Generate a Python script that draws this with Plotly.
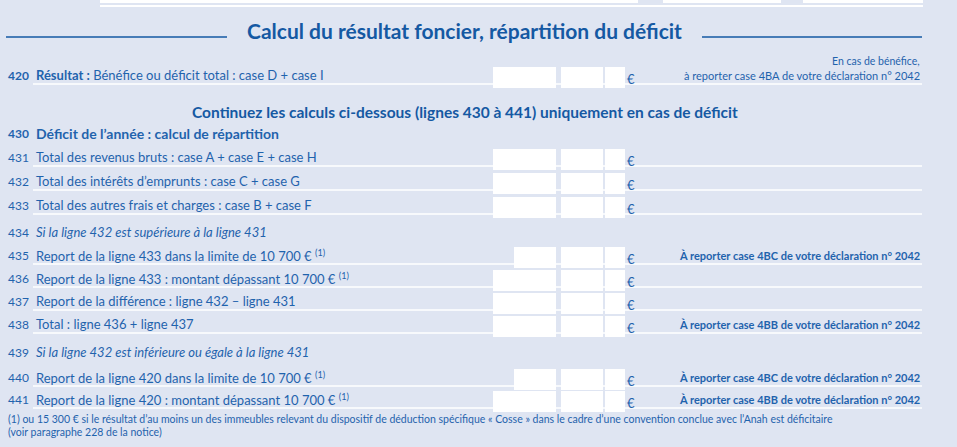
import plotly.graph_objects as go

row_nums = ["420","430","431","432","433","434","435","436","437","438","439","440","441"]
row_texts = [
    "<b>Résultat :</b> Bénéfice ou déficit total : case D + case I",
    "<b>Déficit de l’année : calcul de répartition</b>",
    "Total des revenus bruts : case A + case E + case H",
    "Total des intérêts d’emprunts : case C + case G",
    "Total des autres frais et charges : case B + case F",
    "<i>Si la ligne 432 est supérieure à la ligne 431</i>",
    "Report de la ligne 433 dans la limite de 10 700 € <sup>(1)</sup>",
    "Report de la ligne 433 : montant dépassant 10 700 € <sup>(1)</sup>",
    "Report de la différence : ligne 432 – ligne 431",
    "Total : ligne 436 + ligne 437",
    "<i>Si la ligne 432 est inférieure ou égale à la ligne 431</i>",
    "Report de la ligne 420 dans la limite de 10 700 € <sup>(1)</sup>",
    "Report de la ligne 420 : montant dépassant 10 700 € <sup>(1)</sup>",
]
right_notes = ["à reporter case 4BA de votre déclaration n° 2042", "", "", "", "", "",
               "À reporter case 4BC de votre déclaration n° 2042", "", "",
               "À reporter case 4BB de votre déclaration n° 2042", "",
               "À reporter case 4BC de votre déclaration n° 2042",
               "À reporter case 4BB de votre déclaration n° 2042"]
has_boxes = [True, False, True, True, True, False, True, True, True, True, False, True, True]
short_box = [False]*6 + [True] + [False]*4 + [True, False]
title = "Calcul du résultat foncier, répartition du déficit"
subtitle = "Continuez les calculs ci-dessous (lignes 430 à 441) uniquement en cas de déficit"
footnote = ["(1) ou 15 300 € si le résultat d’au moins un des immeubles relevant du dispositif de déduction spécifique « Cosse » dans le cadre d’une convention conclue avec l’Anah est déficitaire",
            "(voir paragraphe 228 de la notice)"]

# layout positions (pixels)
row_y = [75, 133, 157, 181, 205, 232, 255, 278, 301, 324, 352, 377, 399]
BLUE = "#1f63ad"
DARK = "#1559a3"
BG = "#dfe5f2"
FONT = "Lato, Roboto, sans-serif"

shapes, ann = [], []
for x0, x1 in [(100, 638), (663, 781), (803, 923)]:
    shapes.append(dict(type="rect", x0=x0, x1=x1, y0=0, y1=3, fillcolor="white", line_width=0))
shapes.append(dict(type="rect", x0=100, x1=923, y0=5, y1=7, fillcolor="white", line_width=0))
shapes.append(dict(type="line", x0=6, x1=227, y0=37, y1=37, line=dict(color=DARK, width=1.5)))
shapes.append(dict(type="line", x0=702, x1=922, y0=37, y1=37, line=dict(color=DARK, width=1.5)))
ann.append(dict(x=464, y=30, text="<b>" + title + "</b>", font=dict(size=21, color=DARK, family=FONT)))
ann.append(dict(x=922, y=61, text="En cas de bénéfice,", xanchor="right", font=dict(size=10.5, color=BLUE, family=FONT)))
ann.append(dict(x=465, y=112, text="<b>" + subtitle + "</b>", font=dict(size=15.5, color=DARK, family=FONT)))

for i, (n, t) in enumerate(zip(row_nums, row_texts)):
    y = row_y[i]
    big = i in (0, 1)
    ann.append(dict(x=6, y=y, text=("<b>%s</b>" % n) if big else n, xanchor="left",
                    font=dict(size=12, color=BLUE, family=FONT)))
    ann.append(dict(x=34, y=y, text=t, xanchor="left",
                    font=dict(size=14 if i == 1 else 13, color=BLUE, family=FONT)))
    if right_notes[i]:
        ann.append(dict(x=922, y=y, text="<b>" + right_notes[i] + "</b>" if i else right_notes[i],
                        xanchor="right", font=dict(size=11, color=BLUE, family=FONT)))
    if has_boxes[i]:
        yb = y + 9
        shapes.append(dict(type="line", x0=33, x1=922, y0=yb, y1=yb, line=dict(color="white", width=1.5)))
        x0 = 514 if short_box[i] else 493
        for a, b in [(x0, 556), (561, 603), (605, 625)]:
            shapes.append(dict(type="rect", x0=a, x1=b, y0=y - 8, y1=y + 13, fillcolor="white", line_width=0))
        ann.append(dict(x=631, y=y + 4, text="€", font=dict(size=13, color=BLUE, family=FONT)))

ann.append(dict(x=6, y=419, text=footnote[0], xanchor="left", font=dict(size=10.5, color=BLUE, family=FONT)))
ann.append(dict(x=6, y=432, text=footnote[1], xanchor="left", font=dict(size=10.5, color=BLUE, family=FONT)))
for a in ann:
    a.update(xref="x", yref="y", showarrow=False, yanchor="middle")
    a.setdefault("xanchor", "center")

fig = go.Figure()
fig.update_layout(width=957, height=447, margin=dict(l=0, r=0, t=0, b=0),
                  paper_bgcolor=BG, plot_bgcolor=BG, shapes=shapes, annotations=ann,
                  xaxis=dict(range=[0, 957], visible=False, fixedrange=True),
                  yaxis=dict(range=[447, 0], visible=False, fixedrange=True),
                  showlegend=False)
fig.write_html("out.html", config={"displayModeBar": False},
               post_script="document.body.style.margin='0';document.body.style.overflow='hidden';")
